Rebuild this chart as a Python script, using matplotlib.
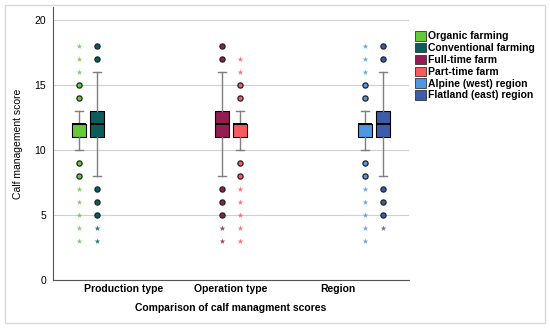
import matplotlib.pyplot as plt
from matplotlib.patches import Rectangle

plt.rcParams['font.family'] = ['Liberation Sans', 'DejaVu Sans']

groups = ['Production type', 'Operation type', 'Region']
series = ['Organic farming', 'Conventional farming', 'Full-time farm',
          'Part-time farm', 'Alpine (west) region', 'Flatland (east) region']
series_group = [0, 0, 1, 1, 2, 2]
colors = ['#66C93A', '#0B5D5B', '#951B53', '#F85B5F', '#4E98E3', '#3D5BA8']

q1 = [11, 11, 11, 11, 11, 11]
med = [12, 12, 12, 12, 12, 12]
q3 = [12, 13, 13, 12, 12, 13]
wlo = [10, 8, 8, 10, 10, 8]
whi = [13, 16, 16, 13, 13, 16]
# circles = outliers, stars = extremes
circles = [[15, 14, 9, 8], [18, 17, 7, 6, 5], [18, 17, 7, 6, 5],
           [15, 14, 9, 8], [15, 14, 9, 8], [18, 17, 7, 6, 5]]
stars = [[18, 17, 16, 7, 6, 5, 4, 3], [4, 3], [4, 3],
         [17, 16, 7, 6, 5, 4, 3], [18, 17, 16, 7, 6, 5, 4, 3], [4]]

fig = plt.figure(figsize=(5.5, 3.28), dpi=100)
ax = fig.add_axes([0.0964, 0.1463, 0.6472, 0.8324])

slot = 0.168
pos = [series_group[i] + (i - 2.5) * slot for i in range(len(series))]

for i in range(len(series)):
    st = [dict(q1=q1[i], med=med[i], q3=q3[i], whislo=wlo[i], whishi=whi[i], fliers=[])]
    ax.bxp(st, positions=[pos[i]], widths=0.135, capwidths=0.075, patch_artist=True,
           showfliers=False,
           boxprops=dict(facecolor=colors[i], edgecolor='black', linewidth=0.8),
           medianprops=dict(color='black', linewidth=1.4),
           whiskerprops=dict(color='#7f7f7f', linewidth=1),
           capprops=dict(color='#7f7f7f', linewidth=1), zorder=3)
    ax.scatter([pos[i]] * len(circles[i]), circles[i], s=14, facecolor=colors[i],
               edgecolor='#222222', linewidth=0.9, zorder=4)
    ax.scatter([pos[i]] * len(stars[i]), stars[i], s=18, marker='*', color=colors[i],
               linewidth=0, alpha=0.85, zorder=4)
    ax.bar(0, 0, color=colors[i], edgecolor='#333333', linewidth=0.6, label=series[i])

ax.set_xlim(-0.664, 2.664)
ax.set_ylim(0, 21)
ax.set_yticks([0, 5, 10, 15, 20])
ax.set_xticks(range(len(groups)))
ax.set_xticklabels(groups, fontsize=7.5, fontweight='bold')
ax.tick_params(axis='both', length=0, labelsize=7.5)
ax.tick_params(axis='y', pad=5)
ax.tick_params(axis='x', pad=3)
ax.grid(axis='y', color='#d0d0d0', linewidth=0.8)
ax.set_axisbelow(True)
for s in ['top', 'right']:
    ax.spines[s].set_visible(False)
for s in ['left', 'bottom']:
    ax.spines[s].set_color('#555555')
    ax.spines[s].set_linewidth(0.8)

ax.set_ylabel('Calf management score', fontsize=7.5, labelpad=8)
ax.set_xlabel('Comparison of calf managment scores', fontsize=7.5, fontweight='bold', labelpad=6)

ax.legend(loc='upper left', bbox_to_anchor=(1.0, 0.934), frameon=False,
          prop=dict(weight='bold', size=7.5), handlelength=1.0, handleheight=1.0,
          handletextpad=0.25, labelspacing=0.15, borderaxespad=0.2)

fig.patches.append(Rectangle((5 / 550, 5 / 328), 540 / 550, 318 / 328, transform=fig.transFigure,
                             fill=False, edgecolor='#d9d9d9', linewidth=1))

fig.savefig('out.png', dpi=100)
